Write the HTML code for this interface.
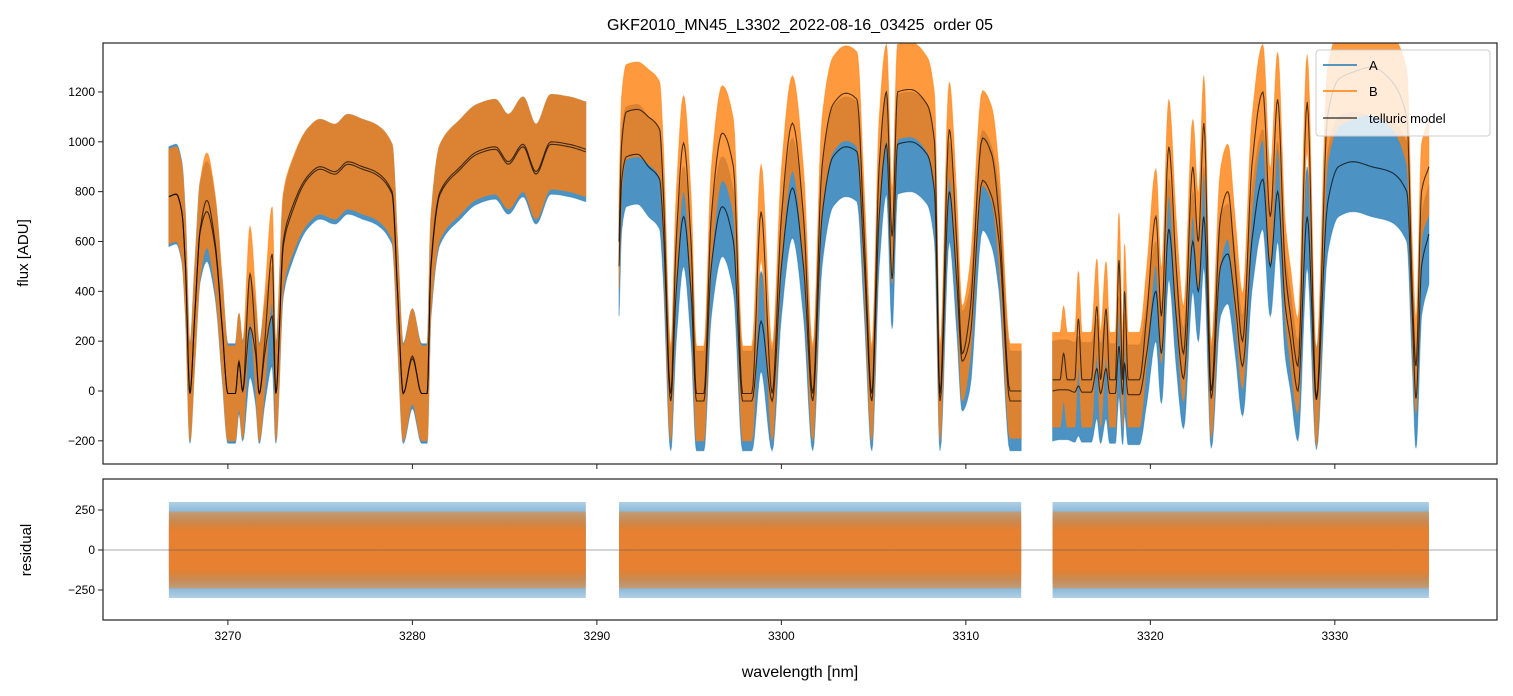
<!DOCTYPE html>
<html><head><meta charset="utf-8">
<style>
html,body{margin:0;padding:0;background:#fff;}
svg{display:block;font-family:"Liberation Sans","DejaVu Sans",sans-serif;}
</style></head>
<body>
<svg id="chart" width="1513" height="696" viewBox="0 0 1513 696" xmlns="http://www.w3.org/2000/svg">
<defs>
<clipPath id="clipTop"><rect x="103" y="43" width="1394" height="421"/></clipPath>
<clipPath id="clipBot"><rect x="103" y="479" width="1394" height="141"/></clipPath>
<linearGradient id="gradBlue" x1="0" y1="0" x2="0" y2="1">
<stop offset="0" stop-color="#1f77b4" stop-opacity="0.35"/>
<stop offset="0.3" stop-color="#1f77b4" stop-opacity="0.85"/>
<stop offset="0.7" stop-color="#1f77b4" stop-opacity="0.85"/>
<stop offset="1" stop-color="#1f77b4" stop-opacity="0.35"/>
</linearGradient>
<linearGradient id="gradOrange" x1="0" y1="0" x2="0" y2="1">
<stop offset="0" stop-color="#ff7f0e" stop-opacity="0.45"/>
<stop offset="0.25" stop-color="#f08028" stop-opacity="0.95"/>
<stop offset="0.75" stop-color="#f08028" stop-opacity="0.95"/>
<stop offset="1" stop-color="#ff7f0e" stop-opacity="0.45"/>
</linearGradient>
</defs>
<text x="800" y="30" text-anchor="middle" font-size="16" style="white-space:pre">GKF2010_MN45_L3302_2022-08-16_03425  order 05</text>
<g id="topPlot"></g>
<g id="botPlot"></g>
<text transform="translate(28,253) rotate(-90)" text-anchor="middle" font-size="15">flux [ADU]</text>
<text transform="translate(31,550) rotate(-90)" text-anchor="middle" font-size="15">residual</text>
<text x="800" y="677" text-anchor="middle" font-size="16">wavelength [nm]</text>
<g>
<rect x="1316" y="50" width="174" height="86" rx="3" fill="#fff" fill-opacity="0.8" stroke="#ccc"/>
<line x1="1323" y1="65" x2="1357" y2="65" stroke="#1f77b4" stroke-width="1.5"/>
<text x="1369" y="70" font-size="13">A</text>
<line x1="1323" y1="91" x2="1357" y2="91" stroke="#ff7f0e" stroke-width="1.5"/>
<text x="1369" y="96" font-size="13">B</text>
<line x1="1323" y1="118" x2="1357" y2="118" stroke="#000" stroke-opacity="0.7" stroke-width="1.5"/>
<text x="1369" y="123" font-size="13">telluric model</text>
</g>
</svg>
<script>
const wavelengths = [3266.8,3267.2,3267.5,3267.7,3267.94,3268.2,3268.5,3268.86,3269.3,3269.7,3270.0,3270.4,3270.6,3270.8,3271.2,3271.5,3271.7,3272.0,3272.4,3272.6,3273.0,3273.4,3274.3,3275.0,3275.8,3276.5,3277.3,3278.0,3278.9,3279.2,3279.5,3280.0,3280.5,3280.8,3281.0,3281.5,3282.6,3283.5,3284.5,3285.2,3286.0,3286.7,3287.5,3288.5,3289.4,
 null,
 3291.2,3291.35,3291.6,3292.2,3292.8,3293.4,3293.6,3294.0,3294.3,3294.7,3295.1,3295.4,3295.8,3296.2,3296.8,3297.4,3297.9,3298.4,3298.9,3299.5,3300.0,3300.6,3301.2,3301.7,3302.2,3302.8,3303.5,3304.1,3304.5,3304.9,3305.3,3305.7,3306.0,3306.3,3307.0,3307.9,3308.3,3308.6,3309.1,3309.5,3309.8,3310.2,3310.9,3311.4,3311.8,3312.4,3313.0,
 null,
 3314.7,3315.1,3315.3,3315.5,3315.9,3316.1,3316.3,3316.8,3317.1,3317.3,3317.6,3317.8,3318.1,3318.3,3318.5,3318.6,3318.8,3319.4,3319.8,3320.3,3320.6,3321.0,3321.4,3321.8,3322.3,3322.6,3322.9,3323.3,3323.8,3324.2,3324.6,3325.0,3325.5,3326.1,3326.5,3326.9,3327.3,3327.6,3328.0,3328.5,3329.0,3329.6,3330.2,3331.0,3332.0,3333.0,3333.9,3334.2,3334.4,3334.7,3335.1];
const modelB = [780,790,720,500,-10,300,650,765,600,250,-10,-10,120,0,470,200,-10,200,550,-10,600,720,860,900,880,920,900,880,800,400,-10,140,-10,-10,500,800,900,960,980,920,990,880,1000,990,970,
 null,
 600,1000,1120,1130,1100,1050,800,-10,600,995,600,-10,-10,700,1035,900,-10,-10,720,-10,700,1075,700,-10,900,1150,1195,1170,600,-10,900,1200,620,1200,1210,1150,1000,-10,1050,600,150,300,1015,950,700,0,0,
 null,
 45,45,150,45,45,290,45,45,340,45,330,45,45,525,45,400,45,45,300,700,300,980,500,150,900,600,1075,0,700,800,500,200,900,1200,700,1170,500,300,100,1160,-35,1100,1250,1280,1300,1250,1100,400,100,800,900];
const modelA = [780,790,720,500,-10,300,640,720,580,240,-10,-10,110,0,255,150,-10,150,300,-10,580,700,850,890,870,910,890,870,790,390,-10,130,-10,-10,490,790,890,950,970,910,980,870,990,980,960,
 null,
 500,850,940,950,900,850,650,-40,400,700,400,-40,-40,500,740,600,-40,-40,280,-40,500,815,500,-40,700,940,980,960,500,-40,700,990,450,990,1000,950,800,-40,800,450,120,200,845,780,600,-40,-40,
 null,
 0,5,5,5,-5,20,-5,-5,90,-10,90,-10,-10,180,-15,110,-15,-15,150,400,150,650,300,50,600,400,700,-30,500,550,350,100,600,850,500,800,350,200,0,700,-35,750,900,920,900,880,800,300,-30,500,630];
const noiseA = [200];
const noiseB = [190];
const residualSpreadA = [300];
const residualSpreadB = [240];
const xTicks = [3270,3280,3290,3300,3310,3320,3330];
const yTicksTop = [-200,0,200,400,600,800,1000,1200];
const yTicksBot = [-250,0,250];

const NS="http://www.w3.org/2000/svg";
const X0=103,X1=1497, WL0=3263.23, WL1=3338.79;
const xs=w=>X0+(w-WL0)/(WL1-WL0)*(X1-X0);
const yTop=v=>391-v*0.2492;
const yBot=v=>550-v*0.16;
function mk(tag,attrs,parent){const e=document.createElementNS(NS,tag);for(const k in attrs)e.setAttribute(k,attrs[k]);parent.appendChild(e);return e;}
function segments(){const segs=[];let cur=[];wavelengths.forEach((w,i)=>{if(w===null){if(cur.length)segs.push(cur);cur=[];}else cur.push(i);});if(cur.length)segs.push(cur);return segs;}
// monotone cubic (Fritsch-Carlson) densification for rendering
function dense(seg,model,off){
  const xv=seg.map(i=>wavelengths[i]), yv=seg.map(i=>model[i]+off);
  const n=xv.length, d=[], m=new Array(n);
  for(let i=0;i<n-1;i++) d.push((yv[i+1]-yv[i])/(xv[i+1]-xv[i]));
  m[0]=d[0]; m[n-1]=d[n-2];
  for(let i=1;i<n-1;i++){ m[i]=(d[i-1]*d[i]<=0)?0:2/(1/d[i-1]+1/d[i]); }
  const out=[];
  for(let i=0;i<n-1;i++){
    const h=xv[i+1]-xv[i];
    for(let k=0;k<8;k++){
      const t=k/8, t2=t*t, t3=t2*t;
      const y=(2*t3-3*t2+1)*yv[i]+(t3-2*t2+t)*h*m[i]+(-2*t3+3*t2)*yv[i+1]+(t3-t2)*h*m[i+1];
      out.push([xv[i]+t*h,y]);
    }
  }
  out.push([xv[n-1],yv[n-1]]);
  return out;
}
const segs=segments();
const topG=document.getElementById('topPlot');
const botG=document.getElementById('botPlot');
const gT=mk('g',{'clip-path':'url(#clipTop)'},topG);
const gB=mk('g',{'clip-path':'url(#clipBot)'},botG);
const pt=p=>xs(p[0]).toFixed(1)+','+yTop(p[1]).toFixed(1);

function band(g,seg,model,hw,color,name){
  const up=dense(seg,model,hw).map(pt);
  const dn=dense(seg,model,-hw).reverse().map(pt);
  const p=mk('polygon',{points:up.concat(dn).join(' '),fill:color,'fill-opacity':0.8,stroke:color,'stroke-opacity':0.5,'stroke-width':1},g);
  
  
}
segs.forEach((s,k)=>band(gT,s,modelA,noiseA[0],'#1f77b4','series-a-band-'+k));
segs.forEach((s,k)=>band(gT,s,modelB,noiseB[0],'#ff7f0e','series-b-band-'+k));
[modelA,modelB].forEach((m,mi)=>segs.forEach((s,k)=>{
  const l=mk('polyline',{points:dense(s,m,0).map(pt).join(' '),fill:'none',stroke:'#000','stroke-opacity':0.7,'stroke-width':1.1},gT);
  
  
}));
[[residualSpreadA[0],'url(#gradBlue)'],[residualSpreadB[0],'url(#gradOrange)']].forEach(([hw,c],ri)=>segs.forEach((s,k)=>{
  const a=xs(wavelengths[s[0]]),b=xs(wavelengths[s[s.length-1]]);
  const r=mk('rect',{x:a,y:yBot(hw),width:b-a,height:yBot(-hw)-yBot(hw),fill:c},gB);
  
  
}));
const zl=mk('line',{x1:X0,x2:X1,y1:yBot(0),y2:yBot(0),stroke:'#555','stroke-width':0.6},gB);



mk('rect',{x:X0,y:43,width:X1-X0,height:421,fill:'none',stroke:'#222','stroke-width':1.2},topG);
mk('rect',{x:X0,y:479,width:X1-X0,height:141,fill:'none',stroke:'#222','stroke-width':1.2},botG);
xTicks.forEach(t=>{
  const x=xs(t);
  mk('line',{x1:x,x2:x,y1:464,y2:469,stroke:'#222'},topG);
  mk('line',{x1:x,x2:x,y1:620,y2:625,stroke:'#222'},botG);
  const tx=mk('text',{x:x,y:640,'text-anchor':'middle','font-size':12},botG);
  tx.textContent=t;
  
  
});
yTicksTop.forEach(t=>{
  const y=yTop(t);
  mk('line',{x1:X0-5,x2:X0,y1:y,y2:y,stroke:'#222'},topG);
  const tx=mk('text',{x:X0-8,y:y+4,'text-anchor':'end','font-size':12},topG);
  tx.textContent=t<0?'\u2212'+(-t):t;
  
  
});
yTicksBot.forEach(t=>{
  const y=yBot(t);
  mk('line',{x1:X0-5,x2:X0,y1:y,y2:y,stroke:'#222'},botG);
  const tx=mk('text',{x:X0-8,y:y+4,'text-anchor':'end','font-size':12},botG);
  tx.textContent=t<0?'\u2212'+(-t):t;
  
  
});
</script>
</body></html>
